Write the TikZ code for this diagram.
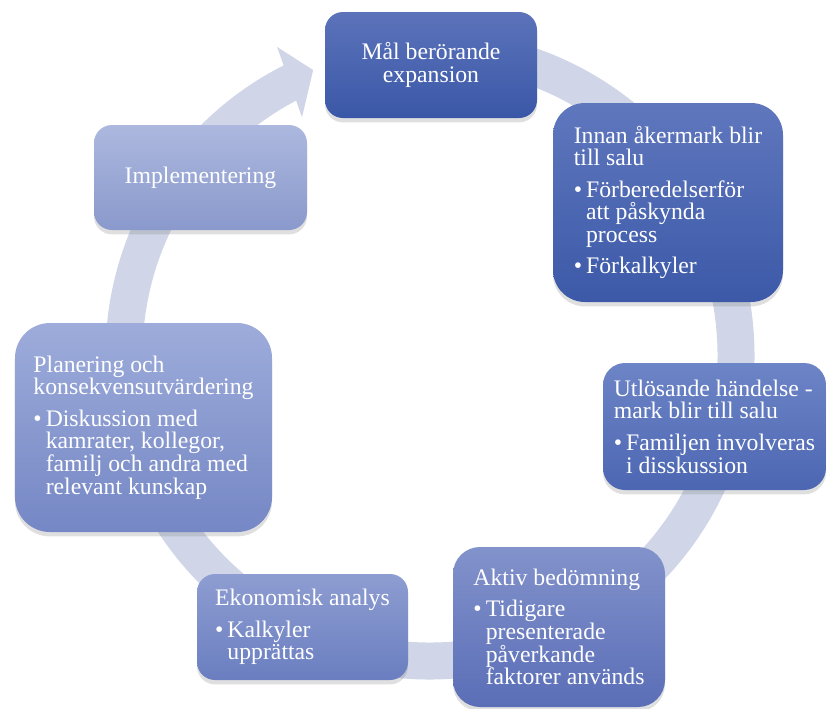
\documentclass[tikz,border=0pt]{standalone}
\usepackage{fontspec}
\setmainfont{Liberation Serif}
\usetikzlibrary{shadows}
\newcommand{\ringRadius}[0]{6.12}
\newcommand{\bulletMark}[0]{\makebox[7pt][l]{\textbullet}}
\newcommand{\bulletIndent}[0]{\hspace*{7pt}}
\definecolor{ringGray}{HTML}{D0D6E8}
\definecolor{goalTop}{HTML}{5C73BA}
\definecolor{goalBottom}{HTML}{3A57A7}
\definecolor{beforeTop}{HTML}{5F77BD}
\definecolor{beforeBottom}{HTML}{3C59A8}
\definecolor{triggerTop}{HTML}{6D85C6}
\definecolor{triggerBottom}{HTML}{4C66B2}
\definecolor{assessTop}{HTML}{8292CB}
\definecolor{assessBottom}{HTML}{5A6EB7}
\definecolor{econTop}{HTML}{8E9DD1}
\definecolor{econBottom}{HTML}{6A7EC0}
\definecolor{planTop}{HTML}{9DACDA}
\definecolor{planBottom}{HTML}{7587C5}
\definecolor{implTop}{HTML}{ACB8DE}
\definecolor{implBottom}{HTML}{8A99CC}

\begin{document}
\begin{tikzpicture}
  \tikzset{phase/.style={text=white, align=left, inner sep=0pt,
      font=\fontsize{13.5}{12.9}\selectfont,
      drop shadow={shadow xshift=0pt, shadow yshift=-2.5pt, opacity=0.25}}}
  \useasboundingbox (0,0) rectangle (16.54,-14.16);
  \coordinate (ring) at (8.60,-7.10);
  \draw[ringGray, line width=0.74cm] ([shift={(95:\ringRadius)}]ring)
    arc[start angle=95, end angle=-243.5, radius=\ringRadius];
  \fill[ringGray] ([shift={(116.4:6.88)}]ring) -- ([shift={(112.3:6.16)}]ring)
    -- ([shift={(118.3:5.40)}]ring) -- cycle;
  \node[phase, align=center, rounded corners=0.36cm, minimum width=4.24cm, minimum height=2.12cm,
    top color=goalTop, bottom color=goalBottom] (goal) at (8.62,-1.30)
    {Mål berörande\\expansion};
  \node[phase, rounded corners=0.64cm, minimum width=4.60cm, minimum height=3.98cm,
    top color=beforeTop, bottom color=beforeBottom] (before) at (13.36,-4.05)
    {Innan åkermark blir\\till salu\\[5pt]
     \bulletMark Förberedelserför\\\bulletIndent att påskynda\\\bulletIndent process\\[5pt]
     \bulletMark Förkalkyler};
  \node[phase, rounded corners=0.44cm, minimum width=4.46cm, minimum height=2.54cm,
    top color=triggerTop, bottom color=triggerBottom] (trigger) at (14.29,-8.53)
    {Utlösande händelse -\\mark blir till salu\\[5pt]
     \bulletMark Familjen involveras\\\bulletIndent i disskussion};
  \node[phase, rounded corners=0.54cm, minimum width=4.24cm, minimum height=3.20cm,
    top color=assessTop, bottom color=assessBottom] (assess) at (11.18,-12.54)
    {Aktiv bedömning\\[5pt]
     \bulletMark Tidigare\\\bulletIndent presenterade\\\bulletIndent påverkande\\\bulletIndent faktorer används};
  \node[phase, rounded corners=0.36cm, minimum width=4.22cm, minimum height=2.12cm,
    top color=econTop, bottom color=econBottom] (econ) at (6.05,-12.54)
    {Ekonomisk analys\\[5pt]
     \bulletMark Kalkyler\\\bulletIndent upprättas};
  \node[phase, rounded corners=0.70cm, minimum width=5.14cm, minimum height=4.18cm,
    top color=planTop, bottom color=planBottom] (plan) at (2.87,-8.55)
    {Planering och\\konsekvensutvärdering\\[5pt]
     \bulletMark Diskussion med\\\bulletIndent kamrater, kollegor,\\\bulletIndent familj och andra med\\\bulletIndent relevant kunskap};
  \node[phase, align=center, rounded corners=0.36cm, minimum width=4.26cm, minimum height=2.10cm,
    top color=implTop, bottom color=implBottom] (impl) at (4.01,-3.55)
    {Implementering};
\end{tikzpicture}
\end{document}
